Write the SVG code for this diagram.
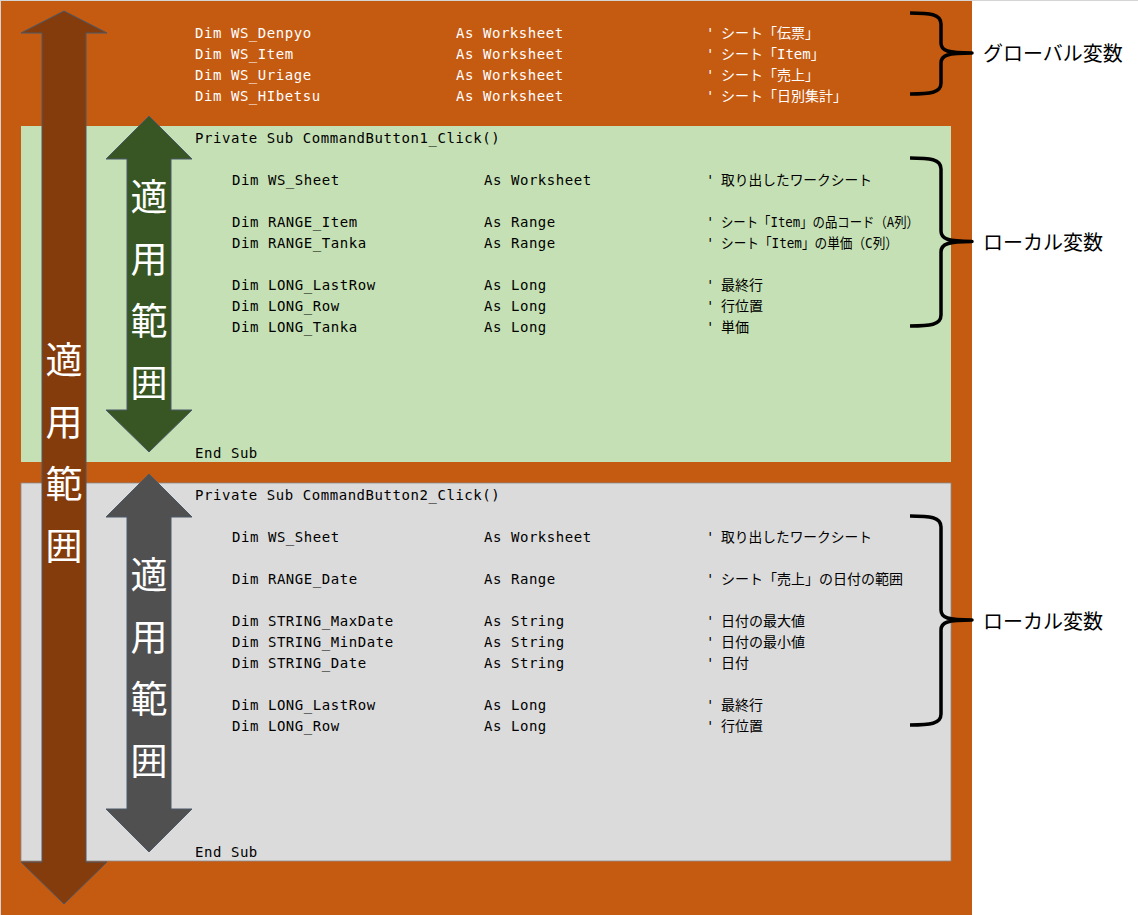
<svg xmlns="http://www.w3.org/2000/svg" width="1138" height="915" viewBox="0 0 1138 915">
<style>
.code{font-family:"DejaVu Sans Mono","Noto Sans CJK JP",monospace;font-size:14px;letter-spacing:0.55px}
.w{fill:#ffffff}
.k{fill:#000000}
.cm{font-family:"DejaVu Sans Mono","Noto Sans CJK JP",monospace;font-size:14px}
.arrowtxt{font-family:"Noto Sans CJK JP",sans-serif;font-size:37px;fill:#ffffff;text-anchor:middle}
.label{font-family:"Noto Sans CJK JP",sans-serif;font-size:20px;fill:#000000}
.brace{fill:none;stroke:#000000;stroke-width:3.5;stroke-linecap:butt;stroke-linejoin:round}
.arrow{stroke:#4a5868;stroke-width:1}
</style>
<rect x="0" y="0" width="1138" height="915" fill="#ffffff"/>
<line x1="0" y1="0.5" x2="1138" y2="0.5" stroke="#d4d4d4"/>
<line x1="0.5" y1="0" x2="0.5" y2="915" stroke="#d4d4d4"/>
<g id="module">
<rect x="1" y="1" width="971" height="914" fill="#C55A11"/>
<g class="code w">
<text x="195" y="38">Dim WS_Denpyo</text>
<text x="195" y="59">Dim WS_Item</text>
<text x="195" y="80">Dim WS_Uriage</text>
<text x="195" y="101">Dim WS_HIbetsu</text>
<text x="456" y="38">As Worksheet</text>
<text x="456" y="59">As Worksheet</text>
<text x="456" y="80">As Worksheet</text>
<text x="456" y="101">As Worksheet</text>
</g>
<g class="cm w">
<text x="706" y="38">'</text><text x="721" y="38">シート「伝票」</text>
<text x="706" y="59">'</text><text x="721" y="59">シート「Item」</text>
<text x="706" y="80">'</text><text x="721" y="80">シート「売上」</text>
<text x="706" y="101">'</text><text x="721" y="101">シート「日別集計」</text>
</g>
</g>
<g id="sub1">
<rect x="21" y="126" width="930" height="336" fill="#C5E0B4"/>
<polygon class="arrow" fill="#375623" points="149,116 192,159 171,159 171,410 192,410 149,452 106,410 127,410 127,159 106,159"/>
<text class="arrowtxt" x="149" y="211">適</text>
<text class="arrowtxt" x="149" y="273">用</text>
<text class="arrowtxt" x="149" y="335">範</text>
<text class="arrowtxt" x="149" y="397">囲</text>
<g class="code k">
<text x="195" y="143">Private Sub CommandButton1_Click()</text>
<text x="232" y="185">Dim WS_Sheet</text>
<text x="232" y="227">Dim RANGE_Item</text>
<text x="232" y="248">Dim RANGE_Tanka</text>
<text x="232" y="290">Dim LONG_LastRow</text>
<text x="232" y="311">Dim LONG_Row</text>
<text x="232" y="332">Dim LONG_Tanka</text>
<text x="484" y="185">As Worksheet</text>
<text x="484" y="227">As Range</text>
<text x="484" y="248">As Range</text>
<text x="484" y="290">As Long</text>
<text x="484" y="311">As Long</text>
<text x="484" y="332">As Long</text>
<text x="195" y="458">End Sub</text>
</g>
<g class="cm k">
<text x="706" y="185">'</text><text x="721" y="185" textLength="151" lengthAdjust="spacingAndGlyphs">取り出したワークシート</text>
<text x="706" y="227">'</text><text x="721" y="227" textLength="198" lengthAdjust="spacingAndGlyphs">シート「Item」の品コード（A列）</text>
<text x="706" y="248">'</text><text x="721" y="248" textLength="177" lengthAdjust="spacingAndGlyphs">シート「Item」の単価（C列）</text>
<text x="706" y="290">'</text><text x="721" y="290">最終行</text>
<text x="706" y="311">'</text><text x="721" y="311">行位置</text>
<text x="706" y="332">'</text><text x="721" y="332">単価</text>
</g>
</g>
<g id="sub2">
<rect x="21" y="483" width="930" height="378" fill="#DBDBDB" stroke="#8c8c8c" stroke-width="0.8"/>
<polygon class="arrow" fill="#505050" points="149,474 192,517 171,517 171,809 192,809 149,852 106,809 127,809 127,517 106,517"/>
<text class="arrowtxt" x="149" y="589">適</text>
<text class="arrowtxt" x="149" y="651">用</text>
<text class="arrowtxt" x="149" y="713">範</text>
<text class="arrowtxt" x="149" y="775">囲</text>
<g class="code k">
<text x="195" y="500">Private Sub CommandButton2_Click()</text>
<text x="232" y="542">Dim WS_Sheet</text>
<text x="232" y="584">Dim RANGE_Date</text>
<text x="232" y="626">Dim STRING_MaxDate</text>
<text x="232" y="647">Dim STRING_MinDate</text>
<text x="232" y="668">Dim STRING_Date</text>
<text x="232" y="710">Dim LONG_LastRow</text>
<text x="232" y="731">Dim LONG_Row</text>
<text x="484" y="542">As Worksheet</text>
<text x="484" y="584">As Range</text>
<text x="484" y="626">As String</text>
<text x="484" y="647">As String</text>
<text x="484" y="668">As String</text>
<text x="484" y="710">As Long</text>
<text x="484" y="731">As Long</text>
<text x="195" y="857">End Sub</text>
</g>
<g class="cm k">
<text x="706" y="542">'</text><text x="721" y="542" textLength="151" lengthAdjust="spacingAndGlyphs">取り出したワークシート</text>
<text x="706" y="584">'</text><text x="721" y="584">シート「売上」の日付の範囲</text>
<text x="706" y="626">'</text><text x="721" y="626">日付の最大値</text>
<text x="706" y="647">'</text><text x="721" y="647">日付の最小値</text>
<text x="706" y="668">'</text><text x="721" y="668">日付</text>
<text x="706" y="710">'</text><text x="721" y="710">最終行</text>
<text x="706" y="731">'</text><text x="721" y="731">行位置</text>
</g>
</g>
<g id="scope-arrow">
<polygon class="arrow" fill="#843C0C" points="64,11 107,33 86,33 86,862 107,862 64,904 21,862 42,862 42,33 21,33"/>
<text class="arrowtxt" x="64" y="374">適</text>
<text class="arrowtxt" x="64" y="436">用</text>
<text class="arrowtxt" x="64" y="498">範</text>
<text class="arrowtxt" x="64" y="560">囲</text>
</g>
<g id="connectors">
<path class="brace" d="M910,13 C930,13 941,14 941,24 L941,43 C941,51 948,53 972,53 C948,53 941,55 941,63 L941,83 C941,93 930,94 910,94"/>
<path class="brace" d="M910,158 C930,158 941,159 941,169 L941,231 C941,239 948,241.5 972,241.5 C948,241.5 941,244 941,252 L941,315 C941,325 930,326 910,326"/>
<path class="brace" d="M910,516 C930,516 941,517 941,527 L941,610 C941,618 948,620 972,620 C948,620 941,622 941,630 L941,714 C941,724 930,725 910,725"/>
</g>
<g id="labels">
<text class="label" x="983" y="61">グローバル変数</text>
<text class="label" x="983" y="250">ローカル変数</text>
<text class="label" x="983" y="629">ローカル変数</text>
</g>
</svg>
